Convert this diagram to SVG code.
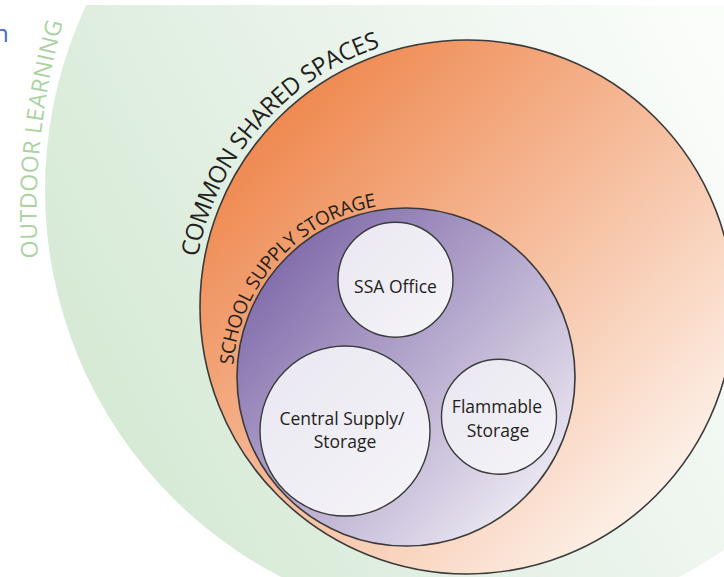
<svg xmlns="http://www.w3.org/2000/svg" width="724" height="577" viewBox="0 0 724 577">
  <style>
    .ring { stroke: #3a3a3a; stroke-width: 1.6; }
    .room { fill: url(#roomFill); stroke: #3a3a3a; stroke-width: 1.4; }
    .label { font-family: "Open Sans", "Liberation Sans", sans-serif; font-size: 17.5px; fill: #231f20; text-anchor: middle; }
    .arc-label { font-family: "Open Sans", "Liberation Sans", sans-serif; fill: #231f20; }
  </style>
  <defs>
    <linearGradient id="greenFill" gradientUnits="userSpaceOnUse" x1="40" y1="420" x2="724" y2="60">
      <stop offset="0" stop-color="#d3e8d2"/>
      <stop offset="0.55" stop-color="#e9f3ea"/>
      <stop offset="1" stop-color="#fbfdfb"/>
    </linearGradient>
    <linearGradient id="orangeFill" gradientUnits="userSpaceOnUse" x1="240" y1="100" x2="690" y2="540">
      <stop offset="0" stop-color="#ee8246"/>
      <stop offset="1" stop-color="#fefaf6"/>
    </linearGradient>
    <linearGradient id="purpleFill" gradientUnits="userSpaceOnUse" x1="250" y1="230" x2="560" y2="520">
      <stop offset="0" stop-color="#765fa3"/>
      <stop offset="1" stop-color="#f5f3f8"/>
    </linearGradient>
    <linearGradient id="roomFill" x1="0" y1="0" x2="1" y2="1">
      <stop offset="0" stop-color="#e9e6f0"/>
      <stop offset="1" stop-color="#f6f5f9"/>
    </linearGradient>
    <!-- baselines for the ring titles -->
    <path id="outdoorArc" d="M 47.2 334.3 A 700 700 0 0 1 102.2 -83.1"/>
    <path id="commonArc" d="M 193 307 A 274 274 0 0 1 514.6 37.2"/>
    <path id="supplyArc" d="M 233 377 A 173 173 0 0 1 436 206.6"/>
    <clipPath id="page">
      <rect x="0" y="5" width="724" height="572"/>
    </clipPath>
  </defs>

  <rect width="724" height="577" fill="#ffffff"/>

  <!-- clipped running text from the page -->
  <text x="-6" y="42" font-family="Open Sans, Liberation Sans, sans-serif" font-size="24" fill="#4a6cc4">n</text>

  <g id="outdoor-learning">
    <circle cx="480" cy="190" r="435" fill="url(#greenFill)" clip-path="url(#page)"/>
    <text class="arc-label" font-size="23" style="fill:#aad3a0">
      <textPath href="#outdoorArc" startOffset="77" textLength="238" lengthAdjust="spacing">OUTDOOR LEARNING</textPath>
    </text>
  </g>

  <g id="common-shared-spaces">
    <circle class="ring" cx="467" cy="307" r="267" fill="url(#orangeFill)"/>
    <text class="arc-label" font-size="24">
      <textPath href="#commonArc" startOffset="50" textLength="292" lengthAdjust="spacing">COMMON SHARED SPACES</textPath>
    </text>
  </g>

  <g id="school-supply-storage">
    <circle class="ring" cx="406" cy="377" r="169" fill="url(#purpleFill)"/>
    <text class="arc-label" font-size="19">
      <textPath href="#supplyArc" startOffset="12" textLength="230" lengthAdjust="spacing">SCHOOL SUPPLY STORAGE</textPath>
    </text>
  </g>

  <g id="ssa-office">
    <circle class="room" cx="395.5" cy="279.7" r="57.5"/>
    <text class="label" x="395.5" y="292.5">SSA Office</text>
  </g>

  <g id="central-supply">
    <circle class="room" cx="345" cy="431" r="85"/>
    <text class="label" x="342" y="425">Central Supply/</text>
    <text class="label" x="345" y="448">Storage</text>
  </g>

  <g id="flammable-storage">
    <circle class="room" cx="499" cy="416.7" r="57.5"/>
    <text class="label" x="497" y="413">Flammable</text>
    <text class="label" x="498" y="437">Storage</text>
  </g>
</svg>
